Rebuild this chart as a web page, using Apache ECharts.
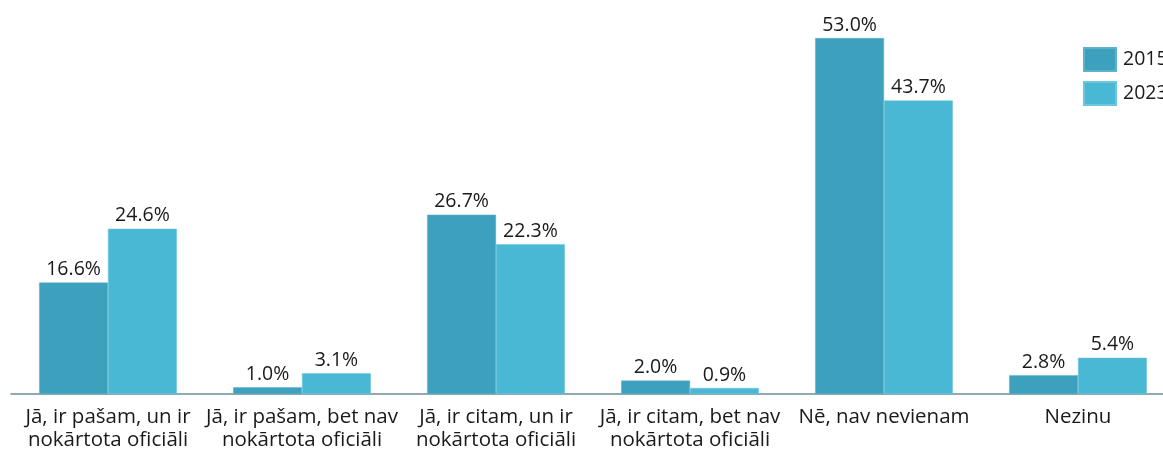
<!DOCTYPE html>
<html><head><meta charset="utf-8">
<script src="https://cdn.jsdelivr.net/npm/echarts@6/dist/echarts.min.js"></script>
<style>html,body{margin:0;padding:0;background:#fff;overflow:hidden}#c{width:1175px;height:452px}</style>
</head><body><div id="c"></div>
<script>
const categories = ["Jā, ir pašam, un ir\nnokārtota oficiāli","Jā, ir pašam, bet nav\nnokārtota oficiāli","Jā, ir citam, un ir\nnokārtota oficiāli","Jā, ir citam, bet nav\nnokārtota oficiāli","Nē, nav nevienam","Nezinu"];
const seriesNames = ["2015","2023"];
const values2015 = [16.6,1.0,26.7,2.0,53.0,2.8];
const values2023 = [24.6,3.1,22.3,0.9,43.7,5.4];
const colors = ["#3da0bd","#48b8d5"];
const font = "'Open Sans', 'DejaVu Sans', sans-serif";
const chart = echarts.init(document.getElementById('c'));
const lbl = {show:true,position:'top',distance:3,color:'#1a1a1a',fontSize:19.5,fontFamily:font,formatter:p=>p.value.toFixed(1)+'%'};
chart.setOption({
  animation:false,
  grid:{left:11,right:0,top:38,bottom:54},
  legend:{orient:'vertical',left:1083,top:47,padding:0,itemWidth:32,itemHeight:23,itemGap:9,
    textStyle:{fontSize:19.5,fontFamily:font,color:'#1a1a1a',padding:[0,0,0,2]},data:seriesNames,icon:'rect'},
  xAxis:{type:'category',data:categories,axisTick:{show:false},
    axisLine:{lineStyle:{color:'#6b8f9c',width:1.5}},
    axisLabel:{interval:0,color:'#1a1a1a',fontSize:20.5,fontFamily:font,lineHeight:23,margin:12}},
  yAxis:{type:'value',min:0,max:53,show:false,splitLine:{show:false}},
  series:[
    {name:seriesNames[0],type:'bar',data:values2015,barGap:'0%',barCategoryGap:'29%',itemStyle:{color:colors[0],borderColor:'#5db3cb',borderWidth:0.5},label:lbl},
    {name:seriesNames[1],type:'bar',data:values2023,itemStyle:{color:colors[1],borderColor:'#6cc6de',borderWidth:0.5},label:lbl}
  ]
});
</script></body></html>
